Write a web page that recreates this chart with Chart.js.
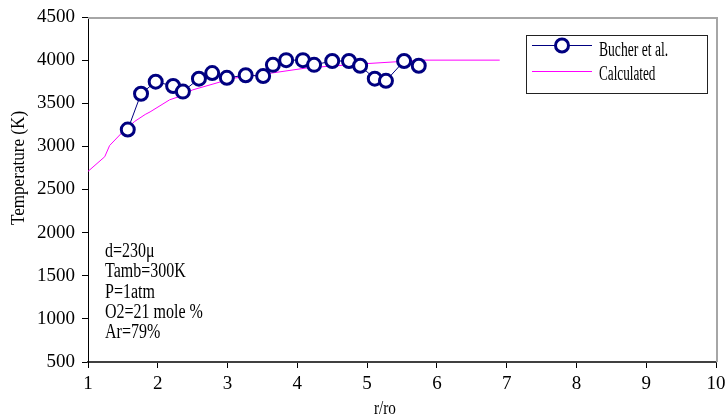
<!DOCTYPE html>
<html><head><meta charset="utf-8">
<script src="https://cdn.jsdelivr.net/npm/chart.js@4"></script>
<style>html,body{margin:0;padding:0;background:#fff}</style>
</head><body>
<canvas id="c" width="727" height="416"></canvas>
<script>
// ---- data ----
const bucherX = [1.57, 1.76, 1.97, 2.22, 2.36, 2.59, 2.78, 2.99, 3.26, 3.51, 3.65, 3.84, 4.08, 4.24, 4.50, 4.74, 4.90, 5.11, 5.27, 5.53, 5.74];
const bucherT = [3195, 3610, 3750, 3700, 3635, 3785, 3850, 3795, 3825, 3815, 3945, 4000, 4000, 3945, 3990, 3990, 3935, 3785, 3760, 3990, 3935];
const calcX = [1.0, 1.24, 1.31, 1.5, 1.67, 1.82, 1.89, 2.17, 2.28, 2.5, 3.08, 3.46, 4.14, 4.9, 5.4, 5.8, 6.9];
const calcT = [2710, 2880, 3010, 3170, 3290, 3370, 3400, 3540, 3570, 3655, 3790, 3830, 3910, 3955, 3980, 4000, 4000];
const xRange = [1, 10];
const yRange = [500, 4500];
const xStep = 1;
const yStep = 500;
const legendLabels = ["Bucher et al.", "Calculated"];
const annotationLines = ["d=230\u03bc", "Tamb=300K", "P=1atm", "O2=21 mole %", "Ar=79%"];
const xTitle = "r/ro";
const yTitle = "Temperature (K)";

const NAVY = '#000080', MAGENTA = '#ff00ff';
const SERIF = '"Liberation Serif", "Times New Roman", serif';

function squeezedText(ctx, text, x, y, size, sx, align) {
  ctx.save();
  ctx.font = size + 'px ' + SERIF;
  ctx.textBaseline = 'alphabetic';
  ctx.textAlign = 'left';
  const w = ctx.measureText(text).width * sx;
  let x0 = x;
  if (align === 'center') x0 = x - w / 2;
  ctx.translate(x0, y);
  ctx.scale(sx, 1);
  ctx.fillStyle = '#000';
  ctx.fillText(text, 0, 0);
  ctx.restore();
}

function drawMarker(ctx, x, y) {
  ctx.save();
  ctx.beginPath();
  ctx.arc(x, y, 6.5, 0, Math.PI * 2);
  ctx.fillStyle = '#fff';
  ctx.fill();
  ctx.lineWidth = 3;
  ctx.strokeStyle = NAVY;
  ctx.stroke();
  ctx.restore();
}

const decor = {
  id: 'decor',
  beforeDatasetsDraw(chart) {
    const {ctx, chartArea: a} = chart;
    ctx.save();
    ctx.strokeStyle = '#a6a6a6';
    ctx.lineWidth = 2;
    ctx.beginPath();
    ctx.moveTo(a.left, a.top + 1);
    ctx.lineTo(a.right + 1, a.top + 1);
    ctx.lineTo(a.right + 1, a.bottom);
    ctx.stroke();
    ctx.restore();
  },
  afterDraw(chart) {
    const {ctx} = chart;
    // legend box
    ctx.save();
    ctx.fillStyle = '#fff';
    ctx.fillRect(526, 35, 181, 58);
    ctx.strokeStyle = '#222';
    ctx.lineWidth = 1;
    ctx.strokeRect(526.5, 35.5, 181, 58);
    ctx.strokeStyle = NAVY;
    ctx.beginPath(); ctx.moveTo(532, 45.5); ctx.lineTo(592, 45.5); ctx.stroke();
    ctx.strokeStyle = MAGENTA;
    ctx.beginPath(); ctx.moveTo(532, 71.5); ctx.lineTo(592, 71.5); ctx.stroke();
    ctx.restore();
    drawMarker(ctx, 562, 45.5);
    squeezedText(ctx, legendLabels[0], 599, 56, 20, 0.68);
    squeezedText(ctx, legendLabels[1], 599, 80, 20, 0.66);
    // annotation block
    const base = [257, 277, 298, 318, 338];
    annotationLines.forEach((t, i) => squeezedText(ctx, t, 105, base[i], 20, 0.80));
    // axis titles
    squeezedText(ctx, xTitle, 385, 414, 19, 0.8, 'center');
    ctx.save();
    ctx.translate(24, 168);
    ctx.rotate(-Math.PI / 2);
    squeezedText(ctx, yTitle, 0, 0, 18, 0.95, 'center');
    ctx.restore();
  }
};

const tickFont = {family: SERIF, size: 19};

new Chart(document.getElementById('c').getContext('2d'), {
  type: 'scatter',
  data: {
    datasets: [
      {
        label: legendLabels[0],
        data: bucherX.map((x, i) => ({x, y: bucherT[i]})),
        showLine: true,
        borderColor: NAVY,
        borderWidth: 1,
        pointStyle: 'circle',
        pointRadius: 6.5,
        pointBorderWidth: 3,
        pointBackgroundColor: '#fff',
        pointBorderColor: NAVY,
        order: 0
      },
      {
        label: legendLabels[1],
        data: calcX.map((x, i) => ({x, y: calcT[i]})),
        showLine: true,
        borderColor: MAGENTA,
        borderWidth: 1,
        pointRadius: 0,
        order: 1
      }
    ]
  },
  options: {
    responsive: false,
    animation: false,
    layout: {padding: {top: 17, right: 11, left: 0, bottom: 0}, autoPadding: false},
    plugins: {legend: {display: false}, tooltip: {enabled: false}},
    scales: {
      x: {
        type: 'linear', min: xRange[0], max: xRange[1],
        ticks: {stepSize: xStep, font: tickFont, color: '#000', padding: 5, maxRotation: 0, autoSkip: false,
                callback: v => String(v)},
        grid: {display: true, drawOnChartArea: false, drawTicks: true, tickLength: 6, color: '#000'},
        border: {display: true, color: '#404040', width: 2},
        afterFit(s) { s.height = 54; s.paddingLeft = 0; s.paddingRight = 0; }
      },
      y: {
        type: 'linear', min: yRange[0], max: yRange[1],
        ticks: {stepSize: yStep, font: tickFont, color: '#000', padding: 7, autoSkip: false,
                callback: v => String(v)},
        grid: {display: true, drawOnChartArea: false, drawTicks: true, tickLength: 6, color: '#000'},
        border: {display: true, color: '#000', width: 1},
        afterFit(s) { s.width = 88; s.paddingTop = 0; s.paddingBottom = 0; }
      }
    }
  },
  plugins: [decor]
});
</script>
</body></html>
